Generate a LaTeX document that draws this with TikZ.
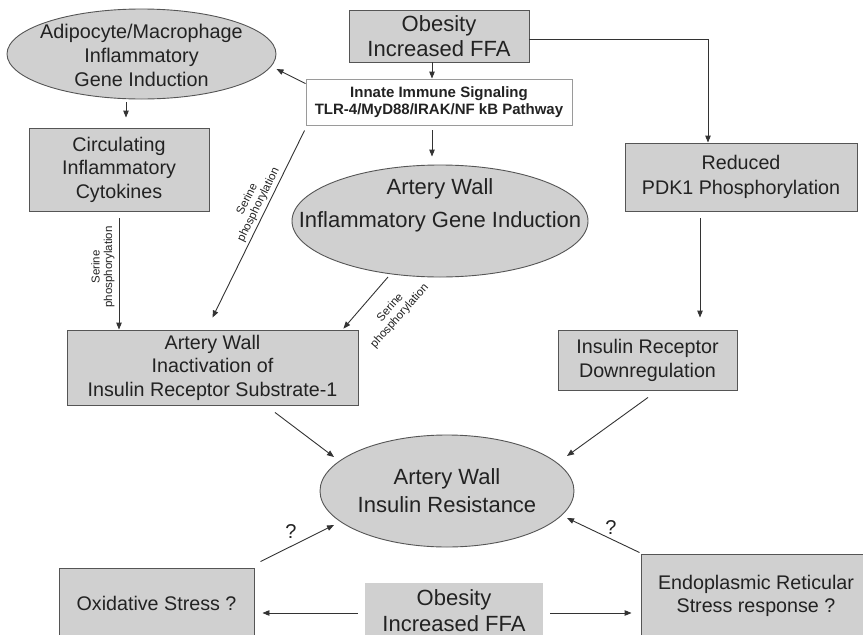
\documentclass[tikz,border=0pt]{standalone}
\usepackage{fontspec}
\setmainfont{Liberation Sans}
\usetikzlibrary{shapes.geometric,arrows.meta}
\definecolor{fillc}{HTML}{D0D0D0}
\definecolor{bordc}{HTML}{555555}
\definecolor{linec}{HTML}{333333}
\definecolor{txtc}{HTML}{222222}
\definecolor{innb}{HTML}{9A9A9A}
\begin{document}
\begin{tikzpicture}[x=1pt,y=-1pt,
 box/.style={draw=bordc, fill=fillc, line width=0.9pt, inner sep=0pt, align=center, text=txtc, font=\fontsize{19.7}{23.5}\selectfont},
 ell/.style={ellipse, draw=bordc, fill=fillc, line width=0.9pt, inner sep=0pt},
 etxt/.style={align=center, text=txtc, inner sep=0pt},
 arr/.style={draw=linec, line width=0.9pt, -{Triangle[length=7pt,width=5.5pt]}},
 lab/.style={font=\fontsize{11.5}{12.5}\selectfont, text=txtc, align=center, inner sep=0pt},
 qlab/.style={font=\fontsize{20}{22}\selectfont, text=txtc, inner sep=0pt},
]
\useasboundingbox (0,0) rectangle (863,635);
\clip (0,0) rectangle (863,635);

% nodes
\node[ell, minimum width=269pt, minimum height=90pt] (adipo) at (141.5,54) {};
\node[etxt, font=\fontsize{19.8}{24}\selectfont] (adipotxt) at (141.5,55) {Adipocyte/Macrophage\\Inflammatory\\Gene Induction};

\node[box, minimum width=180pt, minimum height=52pt, font=\fontsize{22}{25}\selectfont] (obtop) at (439,36) {Obesity\\Increased FFA};

\node[draw=innb, fill=white, line width=0.9pt, inner sep=0pt, align=center, text=txtc, minimum width=266pt, minimum height=46pt, font=\bfseries\fontsize{15}{17}\selectfont] (innate) at (439,102) {Innate Immune Signaling\\TLR-4/MyD88/IRAK/NF kB Pathway};

\node[box, minimum width=180pt, minimum height=83pt] (circ) at (119,169.5) {Circulating\\Inflammatory\\Cytokines};

\node[ell, minimum width=296pt, minimum height=112pt] (art) at (440,221) {};
\node[etxt, font=\fontsize{22}{33}\selectfont] (arttxt) at (440,205) {Artery Wall\\Inflammatory Gene Induction};

\node[box, minimum width=232pt, minimum height=68pt, font=\fontsize{19.7}{24.5}\selectfont] (pdk) at (741,177) {Reduced\\PDK1 Phosphorylation};

\node[box, minimum width=291pt, minimum height=75pt] (inact) at (212.5,367.5) {Artery Wall\\Inactivation of\\Insulin Receptor Substrate-1};

\node[box, minimum width=179pt, minimum height=60pt, font=\fontsize{19.7}{24}\selectfont] (irec) at (647.5,360) {Insulin Receptor\\Downregulation};

\node[ell, minimum width=254pt, minimum height=112pt] (res) at (447,491) {};
\node[etxt, font=\fontsize{22}{28}\selectfont] (restxt) at (447,491) {Artery Wall\\Insulin Resistance};

\node[box, minimum width=195pt, minimum height=70pt] (oxid) at (156.5,603) {Oxidative Stress ?};

\node[fill=fillc, inner sep=0pt, align=center, text=txtc, minimum width=178pt, minimum height=55pt, font=\fontsize{22}{26}\selectfont] (obot) at (454,610.5) {Obesity\\Increased FFA};

\node[box, minimum width=230pt, minimum height=84pt, font=\fontsize{19.7}{23}\selectfont] (endo) at (756,596) {Endoplasmic Reticular\\Stress response ?};

% connectors
\draw[arr] ([xshift=-7pt]obtop.south) -- ([xshift=-7pt]innate.north);
\draw[arr] ([yshift=-3pt]obtop.east) -| ([xshift=-33pt]pdk.north);
\draw[arr] ([yshift=-5pt]innate.north west) -- ([shift={(135pt,-15pt)}]adipo.center);
\draw[arr, shorten <=3pt, shorten >=10pt] ([xshift=-15.5pt]adipo.south) -- ([xshift=7pt]circ.north);
\draw[arr, shorten <=5pt, shorten >=8pt] ([xshift=-7pt]innate.south) -- ([xshift=-8pt]art.north);
\draw[arr] ([shift={(-1pt,-5pt)}]innate.south west) -- ([yshift=12pt]inact.north);
\draw[arr, shorten <=7pt] (circ.south) -- ([xshift=-93.5pt]inact.north);
\draw[arr] ([shift={(-52pt,-56pt)}]art.center) -- ([shift={(-15pt,1pt)}]inact.north east);
\draw[arr, shorten <=7pt, shorten >=12pt] ([xshift=-41pt]pdk.south) -- ([xshift=52.5pt]irec.north);
\draw[arr] ([shift={(62.5pt,-7pt)}]inact.south) -- ([shift={(-113pt,34pt)}]res.center);
\draw[arr] ([shift={(0.5pt,-7pt)}]irec.south) -- ([shift={(120pt,35pt)}]res.center);
\draw[arr] ([shift={(6pt,6pt)}]oxid.north east) -- ([shift={(-113pt,-34pt)}]res.center);
\draw[arr] ([shift={(-1pt,1pt)}]endo.north west) -- ([shift={(120pt,-27pt)}]res.center);
\coordinate (ml) at ([yshift=-2.5pt]obot.west);
\coordinate (mr) at ([yshift=-2.5pt]obot.east);
\draw[arr, shorten <=7pt, shorten >=8pt] (ml) -- (ml -| oxid.east);
\draw[arr, shorten <=7pt, shorten >=9pt] (mr) -- (mr -| endo.west);

% labels
\node[lab, rotate=90] (s1) at (103,267) {Serine\\phosphorylation};
\node[lab, rotate=63.7] (s2) at (253,202) {Serine\\phosphorylation};
\node[lab, rotate=48.6] (s3) at (395,312) {Serine\\phosphorylation};
\node[qlab] (q1) at (291,532) {?};
\node[qlab] (q2) at (611,528) {?};
\end{tikzpicture}
\end{document}
